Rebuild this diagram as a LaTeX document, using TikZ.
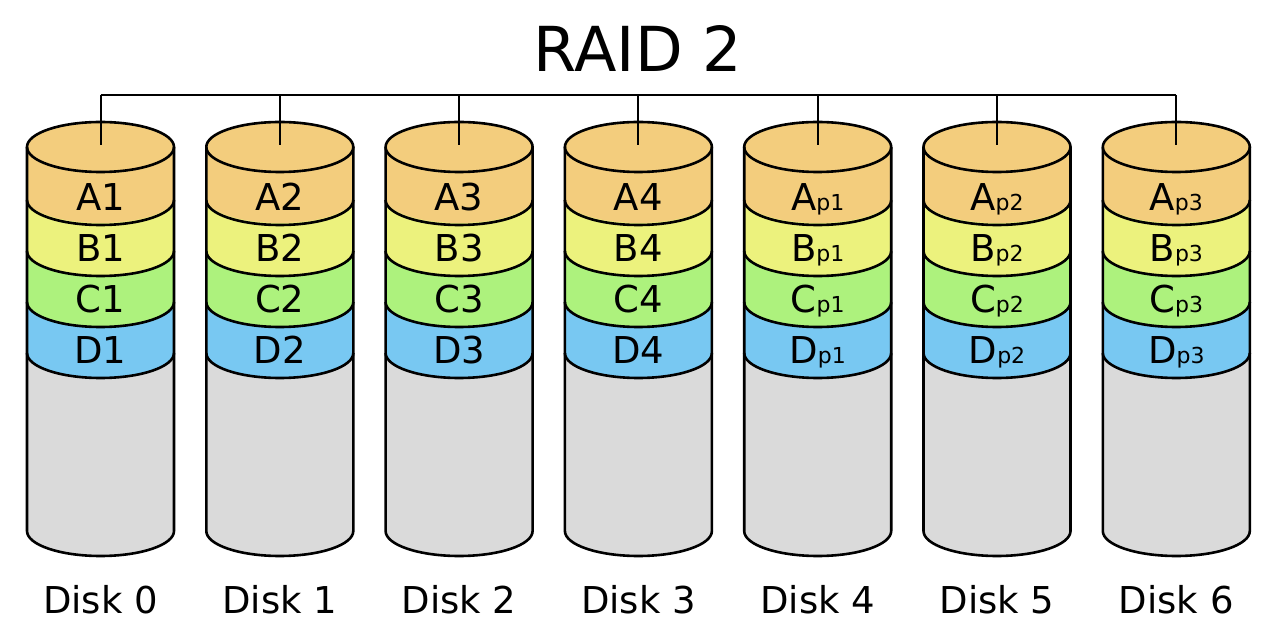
\documentclass[tikz,border=0pt]{standalone}
\usepackage{fontspec}
\setmainfont{DejaVu Sans}
\definecolor{stripA}{HTML}{F3CD7D}
\definecolor{stripB}{HTML}{ECF27D}
\definecolor{stripC}{HTML}{ADF27D}
\definecolor{stripD}{HTML}{78C8F2}
\definecolor{spare}{HTML}{DADADA}
\newcommand{\paritysub}[1]{{\fontsize{22}{24}\selectfont #1}}
\tikzset{
    disk line/.style={line width=2.6pt, line join=round},
    bus/.style={draw, line width=2pt},
    strip label/.style={anchor=base, inner sep=0pt, font=\fontsize{37}{40}\selectfont},
    disk name/.style={anchor=base, inner sep=0pt, font=\fontsize{37}{40}\selectfont},
    heading/.style={anchor=base, inner sep=0pt, font=\fontsize{62}{66}\selectfont}
}

\begin{document}
\begin{tikzpicture}[x=1pt, y=1pt,
                    rr/.style={x radius=73.5, y radius=25}]
    \useasboundingbox (0,0) rectangle (1280,640);
    % Title
    \node[heading] (title) at (638,568) {RAID 2};

    % Disks
    \foreach \i/\suf in {0/1, 1/2, 2/3, 3/4, 4/{\paritysub{p1}}, 5/{\paritysub{p2}}, 6/{\paritysub{p3}}} {
        \pgfmathsetmacro{\cx}{100.5+179.3*\i}
        % body and strips
        \fill[spare] (\cx-73.5,287) -- (\cx-73.5,109) arc[start angle=180, end angle=360, rr] -- (\cx+73.5,287) -- cycle;
        \foreach \col/\ytop in {stripD/338, stripC/389, stripB/440, stripA/493}
            \fill[\col] (\cx-73.5,\ytop) -- (\cx-73.5,\ytop-51) arc[start angle=180, end angle=360, rr] -- (\cx+73.5,\ytop) -- cycle;
        \fill[stripA] (\cx,493) ellipse[rr];
        % outline
        \draw[disk line] (\cx-73.5,493) -- (\cx-73.5,109) arc[start angle=180, end angle=360, rr] -- (\cx+73.5,493);
        \draw[disk line] (\cx,493) ellipse[rr];
        \foreach \y in {440, 389, 338, 287}
            \draw[disk line] (\cx-73.5,\y) arc[start angle=180, end angle=360, rr];
        % labels
        \foreach \L/\Y in {A/429, B/378, C/327, D/276}
            \node[strip label] (\L\i) at (\cx,\Y) {\L\suf};
        \node[disk name] (disk\i) at (\cx,27) {Disk \i};
        \coordinate (top\i) at (\cx,495);
        \coordinate (tap\i) at (\cx,545);
    }

    % bus
    \draw[bus] (tap0) -- (tap6);
    \foreach \i in {0,...,6}
        \draw[bus] (tap\i) -- (top\i);
\end{tikzpicture}
\end{document}
